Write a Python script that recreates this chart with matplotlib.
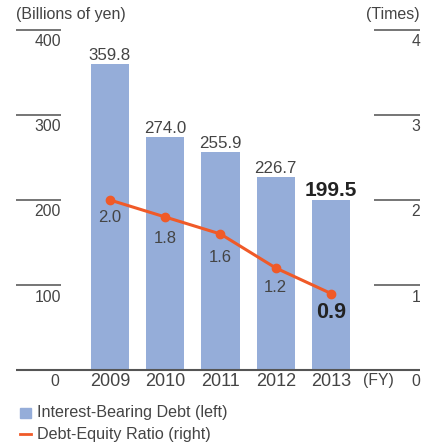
import matplotlib.pyplot as plt
import numpy as np

plt.rcParams['font.family'] = ['Liberation Sans', 'DejaVu Sans']

years = ['2009', '2010', '2011', '2012', '2013']
debt = [359.8, 274.0, 255.9, 226.7, 199.5]
ratio = [2.0, 1.8, 1.6, 1.2, 0.9]
left_ticks = [100, 200, 300, 400]
right_ticks = [1, 2, 3, 4]

# pixel gap between each ratio point and its label
ratio_label_gap = [18, 22, 23, 20, 19]

bar_color = '#95add9'
line_color = '#f05a28'
text_color = '#444444'
rule_color = '#6a6a6a'

fig = plt.figure(figsize=(4.3, 4.47), dpi=100)
ax = fig.add_axes([16/430, 77/447, 404/430, 340/447])
ax2 = ax.twinx()
x = np.arange(len(years))
xl = (-1.70, 5.61)
ax.set_ylim(0, 400)
ax2.set_ylim(0, 4)
ax.axis('off')
ax2.axis('off')

ax.bar(x, debt, width=0.69, color=bar_color, zorder=1)
ax2.plot(x, ratio, color=line_color, lw=2.2, marker='o', ms=6, zorder=3)
ax.set_xlim(*xl)
ax2.set_xlim(*xl)

# bar labels
for i, v in enumerate(debt):
    last = i == len(debt) - 1
    ax.annotate('%.1f' % v, (x[i], v), xytext=(0, 4), textcoords='offset pixels',
                ha='center', va='baseline',
                fontsize=15 if last else 12.2, fontweight='bold' if last else 'normal',
                color='#222222' if last else text_color)

# ratio labels
for i, r in enumerate(ratio):
    last = i == len(ratio) - 1
    ax2.annotate('%.1f' % r, (x[i], r), xytext=(0, -ratio_label_gap[i]),
                 textcoords='offset pixels', ha='center', va='center',
                 fontsize=15.5 if last else 12, fontweight='bold' if last else 'normal',
                 color='#222222' if last else text_color)

# left scale
ax.hlines(left_ticks, xl[0], -0.89, color=rule_color, lw=1.3, clip_on=False)
for t in left_ticks:
    ax.annotate(str(t), (-0.89, t), xytext=(0, -12), textcoords='offset pixels',
                ha='right', va='center', fontsize=11.3, color=text_color)
# right scale
ax2.hlines(right_ticks, 4.78, xl[1], color=rule_color, lw=1.3, clip_on=False)
for t in right_ticks:
    ax2.annotate(str(t), (xl[1], t), xytext=(0, -12), textcoords='offset pixels',
                 ha='right', va='center', fontsize=11.3, color=text_color)

ax.hlines([0], xl[0], xl[1], color='#555555', lw=1.5, clip_on=False)
for i, y in enumerate(years):
    ax.annotate(y, (x[i], 0), xytext=(0, -11), textcoords='offset pixels',
                ha='center', va='center', fontsize=13, color=text_color)
ax.annotate('0', (-0.89, 0), xytext=(-2, -11), textcoords='offset pixels',
            ha='right', va='center', fontsize=11.3, color=text_color)
ax.annotate('0', (xl[1], 0), xytext=(0, -11), textcoords='offset pixels',
            ha='right', va='center', fontsize=11.3, color=text_color)
ax.annotate('(FY)', (4.85, 0), xytext=(0, -11), textcoords='offset pixels',
            ha='center', va='center', fontsize=11.3, color=text_color)

fig.text(16/430, 1 - 15/447, '(Billions of yen)', ha='left', va='center',
         fontsize=11.5, color=text_color)
fig.text(420/430, 1 - 15/447, '(Times)', ha='right', va='center',
         fontsize=11.5, color=text_color)

# legend
fig.patches.append(plt.Rectangle((20/430, 1 - 418/447), 11/430, 10/447,
                                 transform=fig.transFigure, color=bar_color))
fig.text(37/430, 1 - 413/447, 'Interest-Bearing Debt (left)', ha='left', va='center',
         fontsize=11.6, color=text_color)
fig.lines.append(plt.Line2D([20/430, 31/430], [1 - 434/447, 1 - 434/447],
                            transform=fig.transFigure, color=line_color, lw=2))
fig.text(37/430, 1 - 434/447, 'Debt-Equity Ratio (right)', ha='left', va='center',
         fontsize=11.6, color=text_color)

fig.savefig('out.png', dpi=100)
